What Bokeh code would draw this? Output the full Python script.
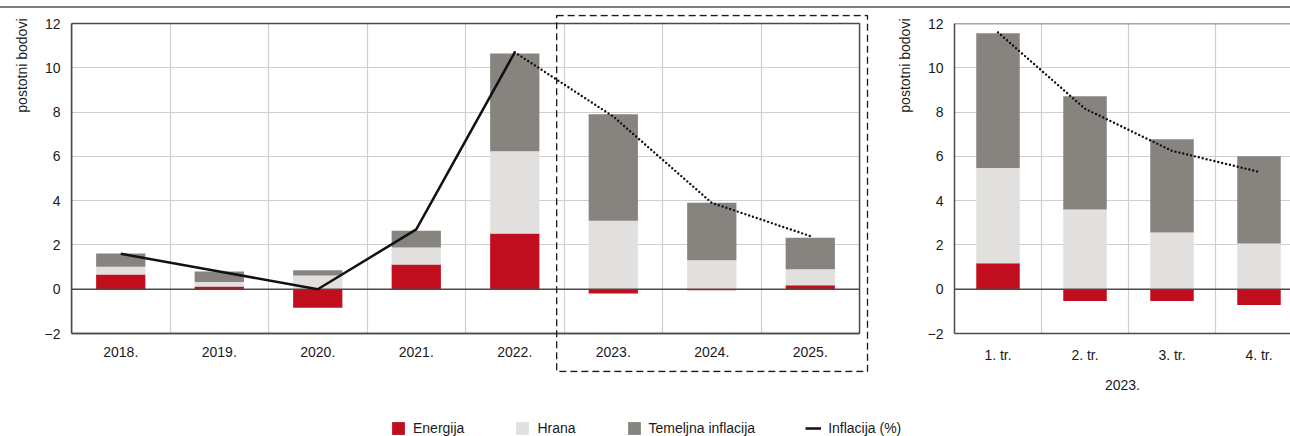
from bokeh.plotting import figure
from bokeh.models import (Range1d, FixedTicker, Span, BoxAnnotation, Legend, Title,
                          LegendItem, Div, ColumnDataSource)
from bokeh.layouts import column, row
from bokeh.embed import file_html
from bokeh.resources import INLINE

# ---------------- data ----------------
years = ["2018.", "2019.", "2020.", "2021.", "2022.", "2023.", "2024.", "2025."]
energija = [0.66, 0.12, -0.84, 1.12, 2.52, -0.19, -0.05, 0.18]
hrana = [0.35, 0.21, 0.62, 0.76, 3.71, 3.09, 1.31, 0.72]
temeljna = [0.60, 0.47, 0.24, 0.76, 4.42, 4.81, 2.59, 1.42]
inflacija = [1.6, 0.8, 0.0, 2.7, 10.7, 7.8, 3.9, 2.4]
n_actual = 5  # 2018.-2022. solid, then projection dotted

quarters = ["1. tr.", "2. tr.", "3. tr.", "4. tr."]
energija_q = [1.17, -0.53, -0.53, -0.71]
hrana_q = [4.30, 3.60, 2.56, 2.06]
temeljna_q = [6.09, 5.12, 4.21, 3.94]
inflacija_q = [11.6, 8.15, 6.25, 5.3]

y_min, y_max = -2, 12
y_ticks = [-2, 0, 2, 4, 6, 8, 10, 12]
y_labels = {-2: "\u22122"}

# ---------------- style ----------------
FONT = "Liberation Sans"
RED = "#c10e1f"
LIGHT = "#e1e0df"
CORE = "#87847f"
FRAME = "#4a4a4a"
GRID = "#cfcfcf"
TEXT = "#1a1a1a"
FS = "14px"


def stacked(p, xs, e, f, c):
    eb = [min(v, 0) for v in e]
    et = [max(v, 0) for v in e]
    ft = [b + v for b, v in zip(et, f)]
    ct = [b + v for b, v in zip(ft, c)]
    src = ColumnDataSource(dict(x=xs, eb=eb, et=et, fb=et, ft=ft, ct=ct))
    p.vbar(x="x", bottom="eb", top="et", width=0.5, fill_color=RED, line_color=None, source=src)
    p.vbar(x="x", bottom="fb", top="ft", width=0.5, fill_color=LIGHT, line_color=None, source=src)
    p.vbar(x="x", bottom="ft", top="ct", width=0.5, fill_color=CORE, line_color=None, source=src)


def style(p, centers, labels, n):
    p.yaxis.ticker = FixedTicker(ticks=y_ticks)
    p.yaxis.major_label_overrides = y_labels
    p.xaxis.ticker = FixedTicker(ticks=centers)
    p.xaxis.major_label_overrides = {c: l for c, l in zip(centers, labels)}
    p.xgrid.ticker = FixedTicker(ticks=list(range(1, n)))
    p.ygrid.ticker = FixedTicker(ticks=y_ticks)
    p.grid.grid_line_color = GRID
    p.grid.grid_line_width = 1.2
    for ax in p.axis:
        ax.major_tick_line_color = None
        ax.minor_tick_line_color = None
        ax.major_tick_out = 0
        ax.major_tick_in = 0
        ax.minor_tick_out = 0
        ax.axis_line_color = FRAME
        ax.axis_line_width = 1.5
        ax.major_label_text_font = FONT
        ax.major_label_text_font_size = FS
        ax.major_label_text_color = TEXT
    p.yaxis.major_label_standoff = 11
    p.xaxis.major_label_standoff = 13


def ytitle(p, standoff, offset):
    p.add_layout(Title(text="postotni bodovi", align="right", text_font=FONT,
                       text_font_size=FS, text_font_style="normal", text_color=TEXT,
                       standoff=standoff, offset=offset), "left")


# ---------------- left chart (frame also holds the dashed box) ----------------
n = len(years)
xc = [i + 0.5 for i in range(n)]
px_x = 98.875   # pixels per category
px_y = 22.143   # pixels per unit
x_end = 801 / px_x
y_top = y_max + 9 / px_y
y_bot = y_top - 358 / px_y
p1 = figure(width=875, height=404, x_range=Range1d(0, x_end), y_range=Range1d(y_bot, y_top),
            toolbar_location=None, output_backend="svg", frame_align=False,
            min_border_left=68, min_border_right=6, min_border_top=6, min_border_bottom=40,
            outline_line_color=None)
style(p1, xc, years, n)
p1.yaxis.bounds = (y_min, y_max)
p1.xaxis.bounds = (0, n)
p1.xaxis.fixed_location = y_min
try:
    p1.xgrid.cross_bounds = (y_min, y_max)
    p1.ygrid.cross_bounds = (0, n)
except AttributeError:
    p1.grid.visible = False
    p1.segment(x0=list(range(1, n)), y0=y_min, x1=list(range(1, n)), y1=y_max,
               line_color=GRID, line_width=1.2, level="underlay")
    p1.segment(x0=0, y0=y_ticks, x1=n, y1=y_ticks, line_color=GRID, line_width=1.2,
               level="underlay")
stacked(p1, xc, energija, hrana, temeljna)
p1.segment(x0=[0], y0=[0], x1=[n], y1=[0], line_color=FRAME, line_width=1.5)
p1.quad(left=[0], right=[n], bottom=[y_min], top=[y_max], fill_color=None,
        line_color=FRAME, line_width=1.5)
p1.line(xc[:n_actual], inflacija[:n_actual], line_color="#111111", line_width=2.5)
p1.line(xc[n_actual - 1:], inflacija[n_actual - 1:], line_color="#111111", line_width=2.4,
        line_dash="0 4", line_cap="round")
p1.add_layout(BoxAnnotation(left=(555 - 68) / px_x, right=(867 - 68) / px_x,
                            top=y_max + 8 / px_y, bottom=y_min - 38 / px_y,
                            fill_color=None, fill_alpha=0, line_color="#1a1a1a",
                            line_alpha=1.0, line_width=1.3, line_dash="7 4"))
ytitle(p1, 23, 4)

# ---------------- right chart ----------------
m = len(quarters)
qc = [i + 0.5 for i in range(m)]
p2 = figure(width=415, height=404, x_range=Range1d(0, 336 / 87), y_range=Range1d(y_min, y_max),
            toolbar_location=None, output_backend="svg", frame_align=False,
            min_border_left=79, min_border_right=0, min_border_top=15, min_border_bottom=79,
            outline_line_color=None)
style(p2, qc, quarters, m)
stacked(p2, qc, energija_q, hrana_q, temeljna_q)
p2.add_layout(Span(location=0, dimension="width", line_color=FRAME, line_width=1.5))
p2.add_layout(Span(location=y_max, dimension="width", line_color=FRAME, line_width=1.5))
p2.line(qc, inflacija_q, line_color="#111111", line_width=2.4,
        line_dash="0 4", line_cap="round")
p2.xaxis.axis_label = "2023."
p2.xaxis.axis_label_text_font = FONT
p2.xaxis.axis_label_text_font_size = FS
p2.xaxis.axis_label_text_font_style = "normal"
p2.xaxis.axis_label_text_color = TEXT
p2.xaxis.axis_label_standoff = 14
ytitle(p2, 24, -5)

# ---------------- legend strip ----------------
leg = figure(width=1290, height=24, x_range=Range1d(0, 1), y_range=Range1d(0, 1),
             toolbar_location=None, output_backend="svg", min_border=0,
             x_axis_location=None, y_axis_location=None, outline_line_color=None)
leg.grid.visible = False
rE = leg.vbar(x=[-10], top=[0], width=0.5, fill_color=RED, line_color=None)
rH = leg.vbar(x=[-10], top=[0], width=0.5, fill_color=LIGHT, line_color=None)
rT = leg.vbar(x=[-10], top=[0], width=0.5, fill_color=CORE, line_color=None)
rI = leg.line(x=[-10, -9], y=[0, 0], line_color="#111111", line_width=2.5)
legend = Legend(items=[LegendItem(label="Energija", renderers=[rE]),
                       LegendItem(label="Hrana", renderers=[rH]),
                       LegendItem(label="Temeljna inflacija", renderers=[rT]),
                       LegendItem(label="Inflacija (%)", renderers=[rI])],
                orientation="horizontal", location=(390, 0), padding=0, margin=0,
                spacing=50, label_standoff=7, glyph_width=16, glyph_height=16,
                label_height=16, label_text_font=FONT, label_text_font_size=FS,
                label_text_color=TEXT, border_line_color=None, background_fill_alpha=0)
leg.add_layout(legend)

top = Div(text="", width=1290, height=2, margin=(6, 0, 0, 0),
          styles={"background-color": "#7d7d7d"})

layout = column(top, row(p1, p2, spacing=0), leg, spacing=0)

with open("out.html", "w") as fh:
    fh.write(file_html(layout, INLINE))
